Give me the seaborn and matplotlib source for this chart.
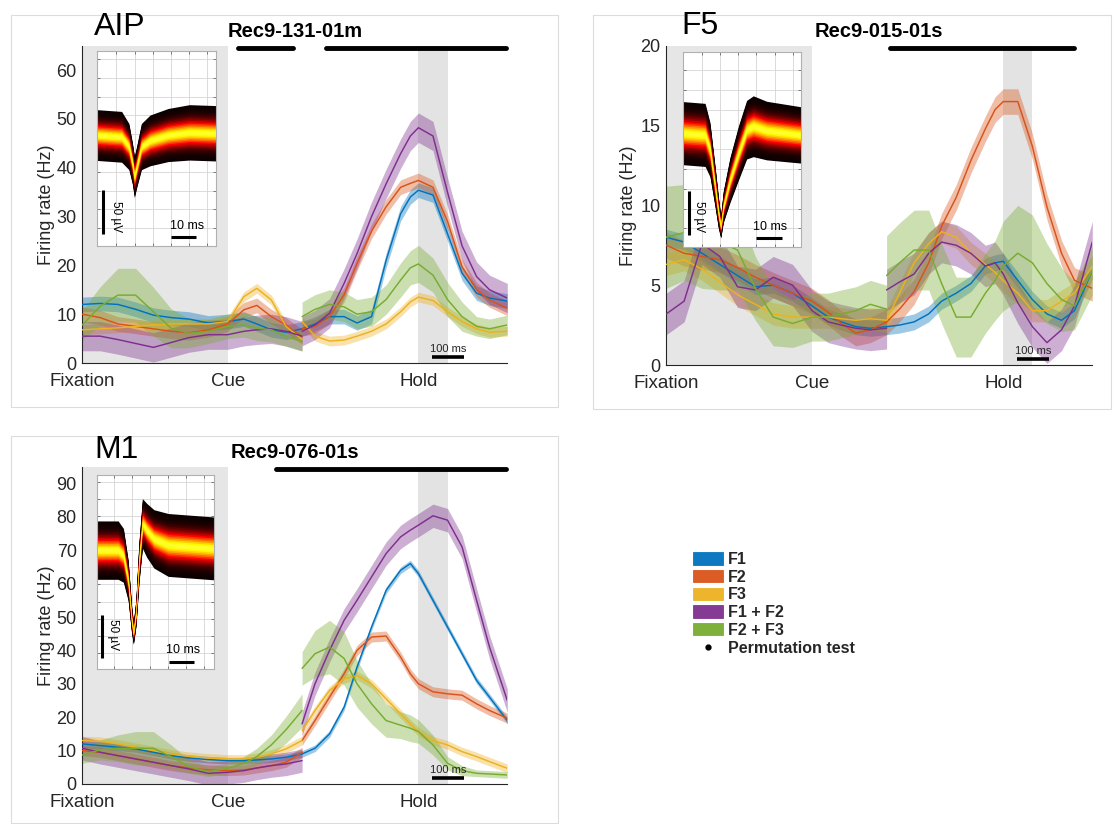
import numpy as np
import pandas as pd
import matplotlib
matplotlib.use("Agg")
import matplotlib.pyplot as plt
import seaborn as sns
from matplotlib.patches import Patch, Rectangle
from matplotlib.lines import Line2D
import matplotlib.transforms as mtrans

sns.set_theme(style="white")
plt.rcParams['font.family'] = ['Liberation Sans', 'DejaVu Sans']

# ---------------- data ----------------
conditions = ["F1", "F2", "F3", "F1 + F2", "F2 + F3"]
colors = ["#0072BD", "#D95319", "#EDB120", "#7E2F8E", "#77AC30"]
event_labels = ["Fixation", "Cue", "Hold"]
event_times = [0, 450, 1040]

t_fix = [0, 55, 110, 165, 220, 275, 330, 390, 450, 500, 540, 585, 630, 680]
t_hold = [680, 720, 765, 810, 850, 895, 940, 985, 1015, 1040, 1085, 1130, 1175, 1220, 1260, 1315]

# AIP
aip_f1_fix = [12, 12.2, 12, 11, 9.8, 9.3, 9, 8.2, 8.5, 9, 8, 6.8, 6.3, 7]
aip_f1_hold = [7, 8, 9.5, 9.5, 8.2, 9.5, 21, 30.6, 34, 35.4, 34.4, 26.5, 18.4, 14.3, 13.3, 12.7]
aip_f2_fix = [10, 9.3, 8, 7.5, 7, 6.5, 6.2, 6.8, 8, 10.9, 11.8, 9.5, 7.8, 5.4]
aip_f2_hold = [7, 7.5, 9.5, 14, 20.4, 27, 32, 36, 36.8, 37.4, 36, 29, 19.7, 15, 12.9, 11.2]
aip_f3_fix = [6.8, 7, 7.2, 7.5, 7.8, 8, 8, 8, 8.5, 13.6, 15.3, 12.9, 7.5, 4.8]
aip_f3_hold = [8.5, 5.5, 4.5, 4.7, 5.5, 6.5, 8, 10.5, 12.5, 13.5, 12.8, 10.5, 8.5, 7, 6.3, 6.5]
aip_f12_fix = [5.5, 5.5, 4.8, 4, 3.2, 4.2, 5.2, 5.8, 5.8, 6.5, 6.8, 7, 6.5, 5.5]
aip_f12_hold = [6.5, 7.8, 10.2, 16.3, 22.4, 30, 36.7, 42.9, 46.5, 48.2, 46.5, 35, 24, 17.7, 15, 13.3]
aip_f23_fix = [7.8, 11.6, 13.9, 13.9, 10.5, 7.1, 6.1, 6.5, 7.5, 7.8, 7.1, 6.8, 5.4, 4.4]
aip_f23_hold = [9.5, 11, 12, 11.5, 10, 10.5, 13, 17, 19.5, 20.3, 18, 13, 9.5, 7.5, 7, 7.8]
aip_ci = [1.5, 1.5, 1.0, 3.0]
aip_f23_ci_fix = [3, 4, 5.5, 5.5, 5, 4, 3, 2.5, 2.5, 2.5, 2.5, 2.5, 2, 2]
aip_f23_ci_hold = [3, 3, 3, 3, 3, 3, 3, 3.5, 3.5, 3.8, 3.5, 3.5, 3, 2, 2, 2]

# F5
f5_f1_fix = [8.0, 7.7, 7.0, 6.3, 5.6, 4.9, 5.0, 4.5, 3.7, 3.0, 2.7, 2.4, 2.3, 2.4]
f5_f1_hold = [2.4, 2.5, 2.7, 3.2, 4.0, 4.5, 5.1, 6.2, 6.4, 6.5, 5.3, 4.1, 3.2, 2.8, 3.4, 5.9]
f5_f2_fix = [7.5, 7.0, 6.8, 6.6, 6.1, 5.5, 5.0, 4.5, 4.0, 3.3, 2.6, 2.0, 2.2, 2.7]
f5_f2_hold = [2.7, 3.5, 4.6, 6.4, 8.7, 10.5, 12.8, 14.8, 16.0, 16.5, 16.5, 13.7, 9.9, 7.0, 5.3, 4.8]
f5_f3_fix = [6.3, 6.6, 6.0, 5.2, 4.4, 3.8, 3.2, 3.0, 3.0, 3.0, 2.9, 2.8, 2.9, 2.8]
f5_f3_hold = [2.8, 4.5, 6.4, 7.6, 8.35, 8.0, 7.0, 6.3, 5.8, 5.3, 4.5, 3.4, 3.4, 4.0, 4.5, 6.2]
f5_f12_fix = [3.2, 4.0, 7.6, 6.8, 4.9, 4.7, 5.5, 5.0, 3.4, 2.7, 2.5, 2.3, 2.2, 2.3]
f5_f12_hold = [4.7, 5.2, 5.7, 7.0, 7.7, 7.5, 7.0, 6.2, 6.4, 5.7, 3.9, 2.4, 1.4, 2.2, 3.7, 7.7]
f5_f23_fix = [8.0, 8.3, 7.8, 7.7, 7.2, 4.8, 3.0, 2.6, 3.0, 3.0, 3.2, 3.4, 3.8, 3.5]
f5_f23_hold = [5.6, 6.4, 7.2, 7.2, 5.1, 3.0, 3.0, 4.5, 5.3, 6.2, 7.0, 6.4, 5.1, 4.1, 3.7, 5.9]
f5_ci = [0.5, 0.8, 0.7, 1.3]
f5_f23_ci_fix = [3.2, 3, 3, 3, 2.5, 2, 1.8, 1.5, 1.5, 1.5, 1.5, 1.5, 1.5, 1.5]
f5_f23_ci_hold = [2.5, 2.5, 2.5, 2.5, 2.5, 2.5, 2.5, 2.5, 2.5, 2.8, 3, 3, 2.5, 2, 1.5, 1.5]

# M1
m1_f1_fix = [12, 11.5, 11, 10.5, 9.5, 8.5, 7.8, 7.3, 7.0, 7.0, 7.2, 7.5, 8.0, 9.0]
m1_f1_hold = [9.0, 10.7, 15, 23, 35, 47, 58, 64, 66, 63, 55, 47, 39, 31, 26, 19]
m1_f2_fix = [10, 9.5, 8.5, 7.5, 6.5, 5.5, 4.8, 4.2, 4.0, 4.2, 4.8, 5.5, 6.5, 9.5]
m1_f2_hold = [13, 19, 26, 33, 40, 44, 44.3, 38, 33, 30, 27.6, 27, 26.6, 24, 22, 19.7]
m1_f3_fix = [13, 12.8, 12, 11, 10, 9, 8.3, 7.8, 7.5, 7.5, 8, 9, 10.5, 13]
m1_f3_hold = [16, 22, 28, 31.5, 32.5, 30, 25.5, 21, 18, 15.7, 13, 11.7, 9.7, 8.2, 6.7, 4.7]
m1_f12_fix = [10.7, 9.5, 8.5, 7.5, 6.5, 5.5, 4.5, 3.2, 3.5, 4, 4.8, 5.5, 6, 7]
m1_f12_hold = [18, 30, 40, 49, 55, 62, 69, 74, 76, 77.5, 80.3, 79, 71, 55, 41, 25]
m1_f23_fix = [8.7, 10.2, 10.7, 10.7, 10.7, 8.2, 5.2, 3.7, 4.7, 6.2, 8.2, 11.7, 16.2, 22]
m1_f23_hold = [34.6, 39, 41, 37.6, 30, 24, 19, 17.6, 16.7, 15.7, 11.7, 6.2, 4, 3.2, 3, 2.7]
m1_ci = [1.0, 1.5, 1.3, 3.5]
m1_f23_ci_fix = [2.5, 3, 4, 5, 5, 3.5, 2, 1.5, 1.5, 2, 2.5, 3, 4, 5]
m1_f23_ci_hold = [5, 7, 8, 8, 7, 6, 5, 4, 4, 3.5, 3, 2, 1.5, 1, 1, 1]

# permutation-test significant intervals (ms)
aip_sig = [(483, 652), (754, 1310)]
f5_sig = [(690, 1257)]
m1_sig = [(599, 1310)]

# spike waveform insets (time ms, mean uV, spread uV)
aip_wf_t = [0, 10, 12.9, 14.3, 15.1, 16, 17.9, 21.4, 28.6, 37.1, 47.6]
aip_wf_mu = [0, -2, -13, -32, -47, -36, -13, -6, 0, 3, 2]
aip_wf_sd = [11, 11, 10, 9, 9, 9, 10, 11, 11.5, 12, 12]
f5_wf_t = [0, 8.5, 10.4, 12.4, 13.7, 14.6, 15.6, 18.2, 21.5, 24.7, 27.3, 32.5, 45.8]
f5_wf_mu = [0, -2, -19, -62, -92, -108, -85, -54, -23, 4, 8, 3, -2]
f5_wf_sd = [14, 14, 12, 9, 7, 5, 7, 10, 12, 13, 13.5, 13, 12.5]
m1_wf_t = [0, 8.6, 10.7, 12.6, 14, 14.7, 15.7, 16.9, 18.3, 20, 22.9, 28.6, 46.9]
m1_wf_mu = [0, 0, -6, -35, -81, -96, -73, -15, 31, 23, 13, 6, 2]
m1_wf_sd = [13, 13, 12, 9, 6, 5, 6, 9, 11, 12, 13, 14, 14]

# ---------------- tidy table ----------------
rows = []
panels_series = {
    "AIP": [(aip_f1_fix, aip_f1_hold), (aip_f2_fix, aip_f2_hold), (aip_f3_fix, aip_f3_hold),
            (aip_f12_fix, aip_f12_hold), (aip_f23_fix, aip_f23_hold)],
    "F5": [(f5_f1_fix, f5_f1_hold), (f5_f2_fix, f5_f2_hold), (f5_f3_fix, f5_f3_hold),
           (f5_f12_fix, f5_f12_hold), (f5_f23_fix, f5_f23_hold)],
    "M1": [(m1_f1_fix, m1_f1_hold), (m1_f2_fix, m1_f2_hold), (m1_f3_fix, m1_f3_hold),
           (m1_f12_fix, m1_f12_hold), (m1_f23_fix, m1_f23_hold)],
}
panels_ci = {
    "AIP": (aip_ci, aip_f23_ci_fix, aip_f23_ci_hold),
    "F5": (f5_ci, f5_f23_ci_fix, f5_f23_ci_hold),
    "M1": (m1_ci, m1_f23_ci_fix, m1_f23_ci_hold),
}
for area, series in panels_series.items():
    ci_sc, g_fix, g_hold = panels_ci[area]
    for ci_idx, (cond, (fix, hold)) in enumerate(zip(conditions, series)):
        for seg, tt, vv in (("fix", t_fix, fix), ("hold", t_hold, hold)):
            for k, (t, v) in enumerate(zip(tt, vv)):
                if ci_idx < 4:
                    c = ci_sc[ci_idx]
                else:
                    c = (g_fix if seg == "fix" else g_hold)[k]
                rows.append(dict(area=area, condition=cond, segment=seg, time=t,
                                 rate=v, lo=v - c, hi=v + c))
df = pd.DataFrame(rows)

# ---------------- figure ----------------
W, H = 1113, 824
fig = plt.figure(figsize=(W / 100, H / 100), dpi=100)
fig.patch.set_facecolor("white")


def fx(px):
    return px / W


def fy(py):
    return 1 - py / H


# panel frames
for (x0, y0, x1, y1) in [(11, 15, 558, 407), (593, 15, 1111, 409), (11, 436, 558, 823)]:
    fig.patches.append(Rectangle((fx(x0), fy(y1)), fx(x1 - x0), (y1 - y0) / H,
                                 transform=fig.transFigure, fill=False,
                                 edgecolor="#dcdcdc", lw=0.8, zorder=0))

DARK = "#262626"


def draw_panel(area, rect_px, ylim, yticks, sig, title, label, label_pos, scale_y, scale_ty, ylab_x):
    x0, y0, x1, y1 = rect_px
    ax = fig.add_axes([fx(x0), fy(y1), fx(x1 - x0), (y1 - y0) / H])
    ax.set_facecolor("white")
    ax.axvspan(0, event_times[1], color="#e6e6e6", lw=0, zorder=0)
    ax.axvspan(1040, 1130, color="#e3e3e3", lw=0, zorder=0)
    sub = df[df.area == area]
    for cond, col in zip(conditions, colors):
        cs = sub[sub.condition == cond]
        for seg in ("fix", "hold"):
            s = cs[cs.segment == seg]
            ax.fill_between(s.time, s.lo, s.hi, color=col, alpha=0.38, lw=0, zorder=2)
        sns.lineplot(data=cs, x="time", y="rate", units="segment", estimator=None,
                     color=col, lw=1.05, ax=ax, legend=False, sort=False, zorder=3)
    ax.set_xlim(0, 1315)
    ax.set_ylim(*ylim)
    ax.set_yticks(yticks)
    ax.set_xticks(event_times)
    ax.set_xticklabels(event_labels)
    ax.set_xlabel("")
    ax.set_ylabel("Firing rate (Hz)", fontsize=13, color=DARK)
    ax.yaxis.set_label_coords(ylab_x, 0.5)
    for sp in ("top", "right"):
        ax.spines[sp].set_visible(False)
    for sp in ("left", "bottom"):
        ax.spines[sp].set_color(DARK)
        ax.spines[sp].set_linewidth(0.8)
    ax.tick_params(axis="both", direction="in", length=3, width=0.8, color=DARK,
                   labelcolor=DARK)
    ax.tick_params(axis="y", pad=4, labelsize=13)
    ax.tick_params(axis="x", pad=7.5, labelsize=13.5)
    # significance bars
    trans = mtrans.blended_transform_factory(ax.transData, ax.transAxes)
    for a, b in sig:
        ax.plot([a, b], [0.993, 0.993], transform=trans, color="black", lw=3.5,
                solid_capstyle="round", clip_on=False, zorder=5)
    # 100 ms scale bar
    ax.plot([1082, 1181], [scale_y, scale_y], color="black", lw=2.6,
            solid_capstyle="butt", zorder=5)
    ax.text(1131, scale_ty, "100 ms", fontsize=8, ha="center", va="center", color=DARK, zorder=5)
    ax.set_title(title, fontsize=14.5, fontweight="bold", pad=6, color="black")
    fig.text(fx(label_pos[0]), fy(label_pos[1]), label, fontsize=23, va="baseline",
             ha="left", color="black")
    return ax


def draw_inset(rect_px, t, mu, sd, xlim, ylim, xgrid, ygrid, vbar, vtext, hbar, htext):
    x0, y0, x1, y1 = rect_px
    ax = fig.add_axes([fx(x0), fy(y1), fx(x1 - x0), (y1 - y0) / H])
    ax.set_facecolor("white")
    ax.set_xlim(*xlim)
    ax.set_ylim(*ylim)
    ax.set_xticks(xgrid)
    ax.set_yticks(ygrid)
    ax.set_xticklabels([])
    ax.set_yticklabels([])
    ax.grid(True, color="#d4d4d4", lw=0.6)
    ax.tick_params(direction="in", length=2.5, width=0.6, color="#666666",
                   top=True, bottom=True, left=True, right=True)
    for sp in ax.spines.values():
        sp.set_color("#b0b0b0")
        sp.set_linewidth(0.8)
    t = np.asarray(t, float)
    mu = np.asarray(mu, float)
    sd = np.asarray(sd, float)
    cmap = plt.get_cmap("hot")
    for k in np.linspace(2.6, 0.05, 20):
        val = np.exp(-k ** 2 / 2) ** 1.6 * 0.8
        ax.fill_between(t, mu - k * sd, mu + k * sd, color=cmap(val), lw=0, zorder=2)
    ax.plot([vbar[0], vbar[0]], [vbar[1], vbar[2]], color="black", lw=2.2,
            solid_capstyle="butt", zorder=4)
    ax.text(vtext[0], vtext[1], "50 µV", rotation=270, fontsize=8.5, ha="center",
            va="center", color="black", zorder=4)
    ax.plot([hbar[0], hbar[1]], [hbar[2], hbar[2]], color="black", lw=2.2,
            solid_capstyle="butt", zorder=4)
    ax.text(htext[0], htext[1], "10 ms", fontsize=9, ha="center", va="center",
            color="black", zorder=4)
    return ax


# AIP
draw_panel("AIP", (82.3, 45.7, 507.3, 363), (0, 65), list(range(0, 61, 10)), aip_sig,
           "Rec9-131-01m", "AIP", (94, 35), 1.2, 2.8, -0.064)
draw_inset((96.6, 50.7, 215.7, 246), aip_wf_t, aip_wf_mu, aip_wf_sd, (0, 47.6), (-125, 95),
           np.arange(7.9, 47, 7.25), np.arange(-105.0, 95, 21.2),
           (2.4, -112, -62), (7.9, -92), (29.7, 39.7, -115), (36.0, -102))

# F5
draw_panel("F5", (666.3, 45.7, 1092.3, 365), (0, 20), [0, 5, 10, 15, 20], f5_sig,
           "Rec9-015-01s", "F5", (681, 34), 0.36, 0.85, -0.068)
draw_inset((683.3, 51.7, 800.7, 246.7), f5_wf_t, f5_wf_mu, f5_wf_sd, (0, 45.8), (-131, 94),
           np.arange(7.2, 45, 7.1), np.arange(-110.0, 94, 22.8),
           (2.3, -117, -67), (6.0, -96), (28.3, 38.4, -121), (34.0, -108))

# M1
draw_panel("M1", (82.3, 466.7, 507.3, 784), (0, 95), list(range(0, 91, 10)), m1_sig,
           "Rec9-076-01s", "M1", (94, 458), 1.7, 4.2, -0.064)
draw_inset((96.6, 475, 214.0, 669.3), m1_wf_t, m1_wf_mu, m1_wf_sd, (0, 46.9), (-138, 87),
           np.arange(7.1, 46, 7.2), np.arange(-119.0, 87, 19.8),
           (2.1, -125, -75), (6.4, -98), (29.0, 39.0, -129), (34.5, -116))

# legend
handles = [Patch(facecolor=c, edgecolor=c, lw=0.6, alpha=0.95) for c in colors]
handles.append(Line2D([], [], marker="o", color="black", ls="", markersize=3.5))
labels = conditions + ["Permutation test"]
fig.legend(handles, labels, loc="upper left", bbox_to_anchor=(fx(693), fy(552)),
           frameon=False, prop={"weight": "bold", "size": 11.5}, handlelength=1.9,
           handleheight=0.8, handletextpad=0.3, labelspacing=0.17, borderpad=0,
           borderaxespad=0)

fig.savefig("out.png", dpi=100, facecolor="white")
